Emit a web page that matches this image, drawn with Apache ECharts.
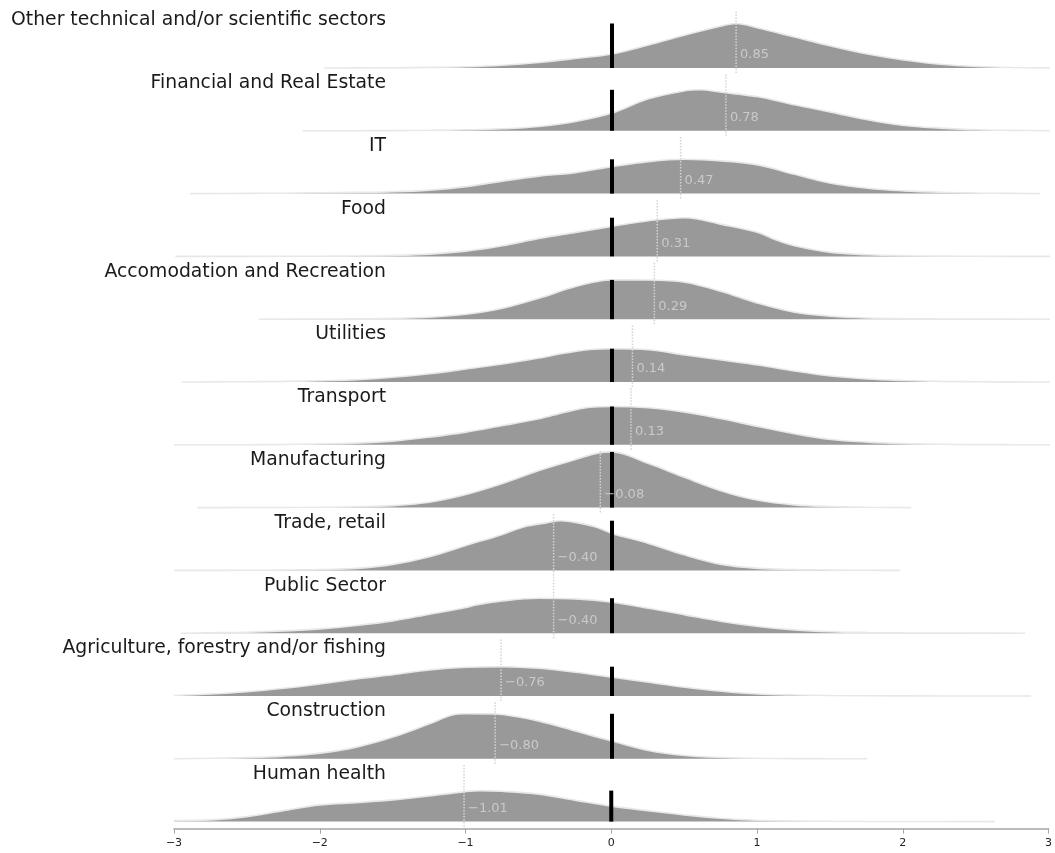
<!DOCTYPE html>
<html>
<head>
<meta charset="utf-8">
<script src="https://cdn.jsdelivr.net/npm/echarts@6/dist/echarts.min.js"></script>
<style>html,body{margin:0;padding:0;background:#fff;}#c{width:1055px;height:853px;}</style>
</head>
<body>
<div id="c"></div>
<script>
const categories = ['Other technical and/or scientific sectors','Financial and Real Estate','IT','Food','Accomodation and Recreation','Utilities','Transport','Manufacturing','Trade, retail','Public Sector','Agriculture, forestry and/or fishing','Construction','Human health'];
const means = [0.85,0.78,0.47,0.31,0.29,0.14,0.13,-0.08,-0.40,-0.40,-0.76,-0.80,-1.01];
const tickLabels = ['\u22123','\u22122','\u22121','0','1','2','3'];

// density readings [x, relative density]
const dOther = [[-1.97,0],[-1.75,0.1],[-1.5,0.3],[-1.25,0.6],[-1,1.3],[-0.75,2.8],[-0.5,5.5],[-0.25,9.5],[0,14],[0.25,23],[0.5,33],[0.75,42],[0.85,44.5],[1,40],[1.25,31],[1.5,22],[1.75,14],[2,8],[2.25,3.7],[2.5,1.5],[2.75,0.5],[3,0.1]];
const dFinancial = [[-2.12,0],[-2,0.05],[-1.75,0.1],[-1.5,0.2],[-1.25,0.5],[-1,1],[-0.75,2],[-0.5,4.3],[-0.25,9.3],[0,17.7],[0.25,32],[0.5,40],[0.6,41],[0.75,38.5],[1,34],[1.25,26],[1.5,18.7],[1.75,11],[2,5.3],[2.25,2.7],[2.5,1],[2.75,0.4],[3,0.1]];
const dIT = [[-2.89,0],[-2.5,0.2],[-2.25,0.4],[-2,0.8],[-1.75,1.2],[-1.5,1.8],[-1.25,3.5],[-1,7],[-0.75,12.5],[-0.5,17.5],[-0.25,21],[0,27],[0.25,32],[0.5,34.3],[0.75,32.7],[1,28.7],[1.25,19.3],[1.5,10.3],[1.75,5.3],[2,2.7],[2.25,1.3],[2.5,0.6],[2.75,0.2],[2.93,0]];
const dFood = [[-2.99,0],[-2.5,0.05],[-2,0.15],[-1.75,0.4],[-1.5,1],[-1.25,2.3],[-1,5.3],[-0.75,10.7],[-0.5,18],[-0.25,24],[0,30],[0.25,35.7],[0.5,38.7],[0.75,32],[1,24],[1.12,16.7],[1.25,10.7],[1.5,4],[1.75,1.7],[2,0.7],[2.25,0.3],[2.5,0.1],[3,0]];
const dAccom = [[-2.42,0],[-2,0.1],[-1.75,0.3],[-1.5,0.8],[-1.25,2],[-1,5],[-0.75,11],[-0.5,21],[-0.25,32.7],[-0.05,39],[0,39.3],[0.25,39.2],[0.5,37],[0.75,27.7],[1,16],[1.25,7],[1.5,3],[1.75,1.2],[2,0.5],[2.25,0.2],[2.5,0.1],[3,0]];
const dUtilities = [[-2.95,0],[-2.75,0.1],[-2.5,0.3],[-2.25,0.6],[-2,1.3],[-1.75,2.3],[-1.5,4.7],[-1.25,8.3],[-1,13],[-0.75,18],[-0.5,24],[-0.32,29],[-0.15,32.5],[0,33.3],[0.25,32.3],[0.5,27],[0.75,22],[1,17],[1.25,11],[1.5,6],[1.75,3],[2,1.5],[2.25,0.6],[2.5,0.2],[2.75,0.1],[3,0]];
const dTransport = [[-3,0],[-2.5,0.1],[-2.25,0.3],[-2,0.8],[-1.75,1.7],[-1.5,3.7],[-1.25,7.7],[-1,12.7],[-0.75,19.3],[-0.5,26],[-0.32,32.7],[-0.15,37.5],[0,38.3],[0.25,37],[0.5,32.7],[0.75,26],[1,18.3],[1.25,11],[1.5,5.3],[1.75,2.7],[2,1.2],[2.25,0.5],[2.5,0.2],[2.75,0.1],[3,0]];
const dManufacturing = [[-2.84,0],[-2.5,0.05],[-2,0.3],[-1.75,0.8],[-1.5,2],[-1.25,5.3],[-1,13],[-0.75,24],[-0.5,37],[-0.25,48],[-0.1,54.5],[0,55.7],[0.25,44],[0.5,30],[0.75,16.7],[1,7.3],[1.25,2.7],[1.5,1],[1.75,0.3],[2.05,0]];
const dTrade = [[-3,0],[-2.5,0.1],[-2.25,0.3],[-2,0.8],[-1.75,2],[-1.5,6],[-1.25,13.7],[-1,25],[-0.75,36],[-0.6,43.7],[-0.45,47.5],[-0.35,49.7],[-0.25,48],[-0.1,43],[0,37],[0.25,27],[0.5,15.3],[0.75,6],[1,2],[1.25,0.8],[1.5,0.3],[1.75,0.1],[1.97,0]];
const dPublic = [[-2.95,0],[-2.75,0.4],[-2.5,1],[-2.25,2.3],[-2,4.3],[-1.75,7.7],[-1.5,12.3],[-1.25,19],[-1,25.7],[-0.94,28],[-0.75,32.3],[-0.5,35],[-0.25,34.3],[0,31],[0.25,25],[0.5,18.3],[0.75,11.7],[1,6.7],[1.25,3.3],[1.5,1.5],[1.75,0.7],[2,0.3],[2.5,0.1],[2.83,0]];
const dAgri = [[-3,0.5],[-2.75,2],[-2.5,4.3],[-2.25,7.7],[-2,12],[-1.75,17],[-1.5,21.3],[-1.25,26],[-1,28.7],[-0.75,29.3],[-0.5,27.7],[-0.25,23.7],[0,18.7],[0.25,13.7],[0.5,8.7],[0.75,4.7],[1,2],[1.25,1],[1.5,0.5],[2,0.1],[2.87,0]];
const dConstruction = [[-3,0.1],[-2.75,0.5],[-2.5,1.2],[-2.25,2.7],[-2,5.7],[-1.75,11.7],[-1.5,21.7],[-1.25,35],[-1.1,43.5],[-1,45],[-0.8,44.8],[-0.75,44.3],[-0.5,37.7],[-0.25,27.7],[0,17.7],[0.25,8.3],[0.5,3.3],[0.75,1.3],[1,0.5],[1.25,0.2],[1.5,0.1],[1.75,0]];
const dHealth = [[-3,1],[-2.75,1.7],[-2.5,5],[-2.25,11],[-2,16.7],[-1.75,19],[-1.5,21.7],[-1.25,25.7],[-1,30],[-0.9,31],[-0.75,30.3],[-0.5,27.5],[-0.25,21.5],[0,15.5],[0.25,11],[0.5,6.7],[0.75,3.3],[1,1.3],[1.25,0.6],[1.5,0.3],[2,0.1],[2.63,0]];

const densities = [dOther,dFinancial,dIT,dFood,dAccom,dUtilities,dTransport,dManufacturing,dTrade,dPublic,dAgri,dConstruction,dHealth];

const ROW = 62.8, FIRST_BASE = 68, LEFT = 174, RIGHT = 5;
const fmt = v => v.toFixed(2).replace('-', '\u2212');

const grid = [], xAxis = [], yAxis = [], series = [], graphic = [];
categories.forEach((name, i) => {
  const base = FIRST_BASE + ROW * i;
  const last = i === categories.length - 1;
  grid.push({left: LEFT, right: RIGHT, top: base - ROW, height: ROW});
  xAxis.push({
    type: 'value', gridIndex: i, min: -3, max: 3, interval: 1,
    show: last, offset: last ? 7 : 0,
    splitLine: {show: false},
    axisLine: {show: true, onZero: false, lineStyle: {color: '#a6a6a6', width: 1.5}},
    axisTick: {show: true, length: 5, lineStyle: {color: '#a6a6a6', width: 1}},
    axisLabel: {color: '#222', fontSize: 11, fontFamily: 'DejaVu Sans', margin: 9,
      formatter: v => tickLabels[Math.round(v) + 3]}
  });
  yAxis.push({type: 'value', gridIndex: i, min: 0, max: ROW, show: false});
  const d = densities[i];
  const peak = Math.max(...d.map(p => p[1]));
  series.push({
    type: 'line', xAxisIndex: i, yAxisIndex: i, data: d, smooth: 0.35,
    symbol: 'none', clip: false, z: 2,
    lineStyle: {color: '#e8e8e8', width: 1.6},
    areaStyle: {color: '#999999', opacity: 1}
  });
  series.push({
    type: 'line', xAxisIndex: i, yAxisIndex: i, data: [[means[i], -5], [means[i], 57]],
    symbol: 'none', clip: false, z: 3,
    lineStyle: {color: '#d4d4d4', width: 1.5, type: [1.5, 1.5]}
  });
  series.push({
    type: 'line', xAxisIndex: i, yAxisIndex: i, data: [[0, 0], [0, peak]],
    symbol: 'none', clip: false, z: 4,
    lineStyle: {color: '#000', width: 4, cap: 'butt'}
  });
  series.push({
    type: 'scatter', xAxisIndex: i, yAxisIndex: i, data: [[means[i], 13]],
    symbolSize: 0, z: 5, silent: true,
    label: {show: true, position: 'right', distance: 4, color: '#d6d6d6', fontSize: 13,
      fontFamily: 'DejaVu Sans', formatter: () => fmt(means[i])}
  });
  graphic.push({
    type: 'text', x: 386, y: base - 47.5,
    style: {text: name, align: 'right', verticalAlign: 'middle', fill: '#1a1a1a',
      fontSize: 18.8, fontFamily: 'DejaVu Sans'}
  });
});

const chart = echarts.init(document.getElementById('c'), null, {renderer: 'canvas'});
chart.setOption({animation: false, backgroundColor: '#fff', grid, xAxis, yAxis, series, graphic});
</script>
</body>
</html>
